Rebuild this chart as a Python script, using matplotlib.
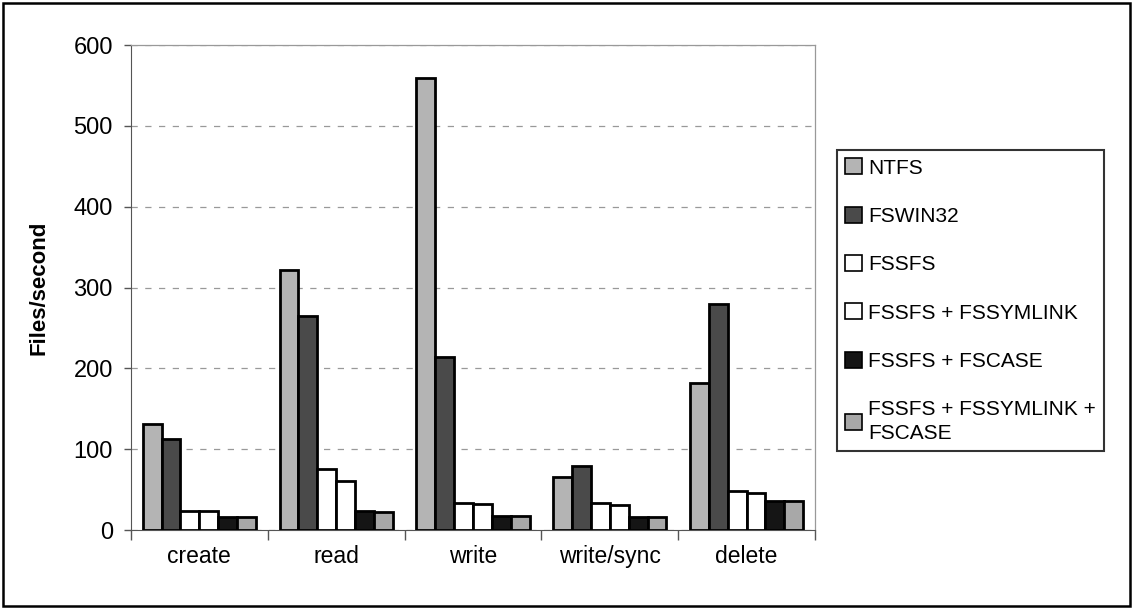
import numpy as np
import matplotlib.pyplot as plt
from matplotlib.patches import Rectangle

plt.rcParams['font.family'] = ['Liberation Sans', 'DejaVu Sans']

categorias = ["create", "read", "write", "write/sync", "delete"]
series = ["NTFS", "FSWIN32", "FSSFS", "FSSFS + FSSYMLINK", "FSSFS + FSCASE",
          "FSSFS + FSSYMLINK +\nFSCASE"]

ntfs = [131, 322, 559, 66, 182]
fswin32 = [113, 265, 214, 79, 280]
fssfs = [24, 75, 34, 34, 48]
fssfs_symlink = [24, 61, 32, 31, 46]
fssfs_case = [16, 24, 17, 16, 36]
fssfs_symlink_case = [16, 22, 17, 16, 36]

valores = [ntfs, fswin32, fssfs, fssfs_symlink, fssfs_case, fssfs_symlink_case]
colores = ["#b4b4b4", "#4a4a4a", "#ffffff", "#ffffff", "#151515", "#a8a8a8"]

fig = plt.figure(figsize=(11.33, 6.09), dpi=100)
ax = fig.add_axes([0.1156, 0.1297, 0.6037, 0.7963])

x = np.arange(len(categorias))
ancho = 0.138
for i, (vals, col) in enumerate(zip(valores, colores)):
    pos = x - 2.5 * ancho + i * ancho
    ax.bar(pos, vals, width=ancho, color=col, edgecolor="black", linewidth=2.0,
           label=series[i], zorder=3)

ax.set_xlim(-0.5, len(categorias) - 0.5)
ax.set_ylim(0, 600)
ax.set_yticks(range(0, 601, 100))
ax.set_xticks(x)
ax.set_xticklabels(categorias, fontsize=16.5)
ax.set_xticks(np.arange(-0.5, len(categorias)), minor=True)
ax.tick_params(axis="x", which="major", length=0, pad=11)
ax.tick_params(axis="x", which="minor", length=7, width=1, color="#555555")
ax.tick_params(axis="y", labelsize=17, length=5, width=1, color="#555555", pad=8)
ax.yaxis.grid(True, linestyle=(0, (5, 6)), color="#999999", linewidth=0.9, zorder=0)

for lado in ["top", "right"]:
    ax.spines[lado].set_color("#999999")
    ax.spines[lado].set_linewidth(0.9)
ax.spines["left"].set_color("#555555")
ax.spines["bottom"].set_color("#555555")

ax.set_ylabel("Files/second", fontsize=16, fontweight="bold", labelpad=17)

leg = fig.legend(loc="upper left", bbox_to_anchor=(837 / 1133, 1 - 150 / 609),
                 bbox_transform=fig.transFigure, fontsize=15, frameon=True,
                 fancybox=False, edgecolor="black", handlelength=0.8,
                 handleheight=0.8, handletextpad=0.3, labelspacing=1.4,
                 borderpad=0.4, borderaxespad=0)
leg.get_frame().set_linewidth(1.5)
for h in leg.legend_handles:
    h.set_linewidth(1.2)
for t in leg.get_texts():
    t.set_linespacing(1.3)

# borde exterior
fig.patches.append(Rectangle((0.003, 0.005), 0.994, 0.99, transform=fig.transFigure,
                             fill=False, edgecolor="black", linewidth=1.8))

fig.savefig("out.png", dpi=100)
